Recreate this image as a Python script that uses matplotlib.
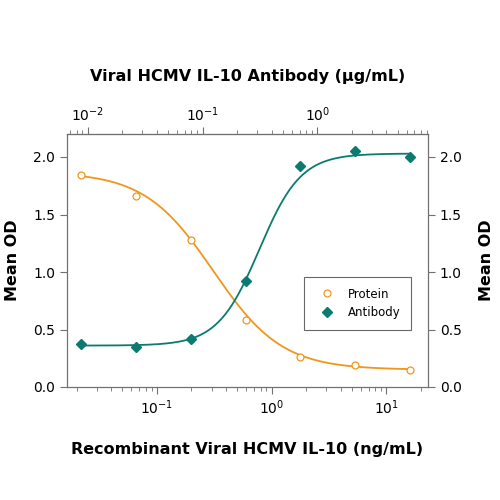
import numpy as np
import matplotlib.pyplot as plt
from matplotlib.ticker import LogLocator, NullFormatter

plt.rcParams['font.family'] = ['DejaVu Sans Condensed', 'DejaVu Sans']

# データ（濃度 ng/mL と平均OD）
conc = [0.0219, 0.0658, 0.198, 0.593, 1.78, 5.33, 16.0]
protein_od = [1.84, 1.66, 1.28, 0.58, 0.26, 0.19, 0.15]
antibody_od = [0.37, 0.35, 0.42, 0.92, 1.92, 2.05, 2.00]

# 4PLフィットのパラメータ（図から推定）: 高濃度側, 低濃度側, ec50, hill
protein_fit = (0.15, 1.87, 0.31, 1.45)
antibody_fit = (2.03, 0.36, 0.78, 2.4)

# 上軸の換算係数 (ug/mL per ng/mL)
top_scale = 0.4

y_ticks = [0.0, 0.5, 1.0, 1.5, 2.0]
y_ticklabels = ["0.0", "0.5", "1.0", "1.5", "2.0"]
bottom_ticks = [0.1, 1, 10]
top_ticks = [0.01, 0.1, 1]

orange = "#f0961c"
teal = "#0b7b70"
spine_gray = "#707070"


def four_pl(x, high, low, ec50, hill):
    return low + (high - low) / (1 + (ec50 / x) ** hill)


fig = plt.figure(figsize=(5, 5), dpi=100)
ax = fig.add_axes([0.134, 0.226, 0.722, 0.506])

xs = np.logspace(np.log10(0.0219), np.log10(16.0), 300)
ax.plot(xs, four_pl(xs, *protein_fit), color=orange, lw=1.3)
ax.plot(xs, four_pl(xs, *antibody_fit), color=teal, lw=1.3)
ax.plot(conc, protein_od, "o", mfc="white", mec=orange, ms=5, mew=0.9,
        label="Protein", ls="none")
ax.plot(conc, antibody_od, "D", color=teal, ms=5, ls="none", label="Antibody")

ax.set_xscale("log")
ax.set_xlim(0.0165, 23)
ax.set_ylim(0, 2.2)
ax.set_xticks(bottom_ticks)
ax.set_yticks(y_ticks)
ax.set_yticklabels(y_ticklabels)
ax.xaxis.set_minor_locator(LogLocator(base=10, subs=np.arange(2, 10)))
ax.xaxis.set_minor_formatter(NullFormatter())

for s in ax.spines.values():
    s.set_color(spine_gray)
ax.tick_params(which="both", direction="out", color=spine_gray,
               labelsize=10)
ax.tick_params(which="major", length=5)
ax.tick_params(which="minor", length=3)

ax.set_xlabel("Recombinant Viral HCMV IL-10 (ng/mL)", fontsize=11.5,
              fontweight="bold", labelpad=18)
ax.set_ylabel("Mean OD", fontsize=11.5, fontweight="bold")
ax.yaxis.set_label_coords(-0.13, 0.5)

# 右軸
ay = ax.twinx()
ay.set_ylim(ax.get_ylim())
ay.set_yticks(y_ticks)
ay.set_yticklabels(y_ticklabels)
for s in ay.spines.values():
    s.set_color(spine_gray)
ay.tick_params(direction="out", color=spine_gray, labelsize=10, length=5)
ay.set_ylabel("Mean OD", fontsize=11.5, fontweight="bold")
ay.yaxis.set_label_coords(1.14, 0.5)

# 上軸
axt = ax.secondary_xaxis("top", functions=(lambda x: x * top_scale,
                                          lambda x: x / top_scale))
axt.set_xticks(top_ticks)
axt.xaxis.set_minor_locator(LogLocator(base=10, subs=np.arange(2, 10)))
axt.xaxis.set_minor_formatter(NullFormatter())
axt.spines["top"].set_color(spine_gray)
axt.tick_params(which="both", direction="out", color=spine_gray,
                labelsize=10, pad=2.5)
axt.tick_params(which="major", length=5)
axt.tick_params(which="minor", length=3)
axt.set_xlabel("Viral HCMV IL-10 Antibody (\u03bcg/mL)", fontsize=11.5,
               fontweight="bold", labelpad=17)

leg = ax.legend(loc="center right", bbox_to_anchor=(0.97, 0.33),
                fontsize=8.5, frameon=True, fancybox=False,
                borderpad=0.9, handletextpad=0.8)
leg.get_frame().set_edgecolor("#444444")
leg.get_frame().set_linewidth(0.8)

fig.savefig("out.png", dpi=100)
